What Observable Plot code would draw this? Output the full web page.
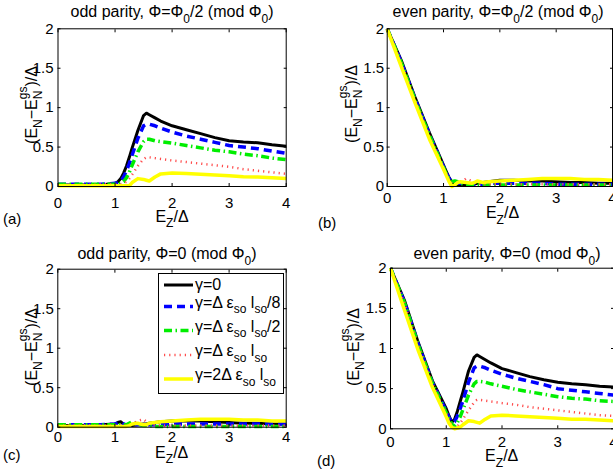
<!DOCTYPE html>
<html><head><meta charset="utf-8">
<script src="https://cdn.jsdelivr.net/npm/d3@7"></script>
<script src="https://cdn.jsdelivr.net/npm/@observablehq/plot@0.6"></script>
<style>
html,body{margin:0;padding:0;background:#fff;overflow:hidden;}
#root{position:relative;width:613px;height:476px;overflow:hidden;background:#fff;}
.panel{position:absolute;overflow:visible;}
.panel svg{max-width:none !important;display:block;}
</style></head><body><div id="root"></div>
<script>
const FONT = '"Liberation Sans", Arial, Helvetica, sans-serif';

// shared x grid (E_Z/Δ)
const xGrid = [0, 0.25, 0.5, 0.75, 1.0, 1.05, 1.1, 1.15, 1.2, 1.25, 1.3, 1.4, 1.5, 1.55, 1.6, 1.7, 1.8, 2.0, 2.25, 2.5, 2.75, 3.0, 3.25, 3.5, 3.75, 4.0];
const xTicks = [0, 1, 2, 3, 4];
const xTickLabels = ["0", "1", "2", "3", "4"];
const yTicks = [0, 0.5, 1, 1.5, 2];
const yTickLabels = ["0", "0.5", "1", "1.5", "2"];

const seriesNames = ["γ=0", "γ=Δ ε_{so} l_{so}/8", "γ=Δ ε_{so} l_{so}/2", "γ=Δ ε_{so} l_{so}", "γ=2Δ ε_{so} l_{so}"];
const seriesColors = ["#000000", "#0000ff", "#00ee00", "#ff4d4d", "#ffff00"];
const seriesWidths = [3, 3.5, 3.5, 2.5, 3.5];
const seriesDashes = [null, "8,5", "8,3.5,1.5,3.5", "1.2,4", null];

const titles = ["odd parity, Φ=Φ_0/2 (mod Φ_0)", "even parity, Φ=Φ_0/2 (mod Φ_0)", "odd parity, Φ=0 (mod Φ_0)", "even parity, Φ=0 (mod Φ_0)"];
const panelTags = ["(a)", "(b)", "(c)", "(d)"];
const xLabel = "E_Z/Δ";
const yLabel = "(E_N−E_N^{gs})/Δ";

// (a) odd parity, Φ=Φ0/2
const aBlack  = [0.02,0.02,0.02,0.02,0.04,0.06,0.10,0.17,0.26,0.37,0.49,0.71,0.90,0.93,0.91,0.87,0.83,0.77,0.72,0.67,0.62,0.58,0.565,0.555,0.53,0.51];
const aBlue   = [0.03,0.03,0.03,0.03,0.04,0.05,0.07,0.12,0.20,0.29,0.40,0.61,0.77,0.79,0.79,0.77,0.74,0.69,0.64,0.60,0.56,0.52,0.50,0.48,0.45,0.42];
const aGreen  = [0.03,0.03,0.03,0.03,0.03,0.03,0.04,0.06,0.11,0.18,0.27,0.44,0.57,0.60,0.60,0.58,0.57,0.55,0.52,0.49,0.46,0.44,0.41,0.39,0.36,0.34];
const aRed    = [0.02,0.02,0.02,0.03,0.03,0.03,0.03,0.04,0.06,0.10,0.15,0.26,0.35,0.37,0.37,0.36,0.35,0.33,0.31,0.29,0.27,0.25,0.22,0.20,0.18,0.16];
const aYellow = [0.01,0.01,0.01,0.01,0.01,0.01,0.01,0.01,0.01,0.01,0.05,0.10,0.09,0.08,0.07,0.12,0.16,0.17,0.165,0.155,0.145,0.135,0.125,0.12,0.11,0.10];

// (b) even parity, Φ=Φ0/2
const bBlack  = [2,1.60,1.12,0.68,0.27,0.19,0.11,0.05,0.03,0.02,0.02,0.02,0.03,0.03,0.04,0.05,0.06,0.08,0.08,0.07,0.07,0.06,0.05,0.05,0.04,0.04];
const bBlue   = [2,1.58,1.10,0.66,0.25,0.17,0.10,0.06,0.05,0.04,0.04,0.03,0.03,0.03,0.03,0.03,0.04,0.04,0.04,0.04,0.04,0.03,0.03,0.03,0.03,0.03];
const bGreen  = [2,1.57,1.09,0.65,0.24,0.16,0.09,0.06,0.07,0.06,0.04,0.03,0.02,0.02,0.02,0.02,0.02,0.02,0.02,0.02,0.02,0.02,0.02,0.02,0.02,0.02];
const bRed    = [2,1.56,1.08,0.64,0.23,0.15,0.08,0.04,0.03,0.04,0.05,0.10,0.07,0.05,0.04,0.03,0.03,0.03,0.03,0.03,0.03,0.03,0.03,0.03,0.03,0.03];
const bYellow = [2,1.52,1.05,0.60,0.22,0.14,0.06,0.00,0.02,0.05,0.06,0.05,0.04,0.05,0.07,0.05,0.06,0.07,0.08,0.09,0.10,0.10,0.10,0.09,0.09,0.08];

// (c) odd parity, Φ=0
const cBlack  = [0.02,0.02,0.02,0.03,0.04,0.06,0.07,0.04,0.02,0.02,0.02,0.03,0.04,0.04,0.05,0.06,0.07,0.08,0.08,0.08,0.07,0.06,0.05,0.05,0.04,0.04];
const cBlue   = [0.03,0.03,0.03,0.03,0.04,0.05,0.06,0.04,0.03,0.03,0.03,0.03,0.03,0.03,0.03,0.03,0.03,0.04,0.04,0.04,0.04,0.04,0.04,0.04,0.04,0.04];
const cGreen  = [0.03,0.03,0.03,0.03,0.03,0.03,0.03,0.03,0.03,0.05,0.07,0.04,0.02,0.02,0.02,0.01,0.01,0.01,0.01,0.01,0.01,0.01,0.01,0.01,0.01,0.01];
const cRed    = [0.02,0.02,0.02,0.02,0.02,0.02,0.02,0.02,0.02,0.03,0.04,0.08,0.10,0.07,0.04,0.03,0.02,0.02,0.02,0.02,0.02,0.02,0.02,0.02,0.02,0.02];
const cYellow = [0.01,0.01,0.01,0.01,0.01,0.01,0.01,0.01,0.01,0.02,0.04,0.05,0.03,0.03,0.05,0.06,0.07,0.08,0.09,0.10,0.10,0.10,0.09,0.09,0.08,0.08];

// (d) even parity, Φ=0
const dBlack  = [2,1.60,1.07,0.60,0.25,0.16,0.08,0.12,0.22,0.34,0.46,0.72,0.89,0.92,0.90,0.86,0.82,0.75,0.70,0.65,0.61,0.58,0.56,0.55,0.53,0.52];
const dBlue   = [2,1.58,1.05,0.58,0.22,0.14,0.08,0.09,0.16,0.25,0.35,0.58,0.76,0.78,0.78,0.76,0.73,0.68,0.63,0.59,0.55,0.50,0.48,0.46,0.44,0.42];
const dGreen  = [2,1.57,1.04,0.57,0.20,0.12,0.06,0.03,0.08,0.15,0.24,0.42,0.56,0.59,0.59,0.58,0.56,0.53,0.49,0.46,0.43,0.40,0.38,0.37,0.35,0.34];
const dRed    = [2,1.56,1.03,0.56,0.19,0.10,0.04,0.01,0.03,0.07,0.12,0.23,0.33,0.36,0.36,0.35,0.34,0.32,0.30,0.27,0.25,0.23,0.21,0.19,0.17,0.16];
const dYellow = [2,1.48,0.97,0.52,0.15,0.07,0.02,0.00,0.01,0.02,0.05,0.10,0.09,0.08,0.07,0.12,0.16,0.17,0.16,0.15,0.14,0.13,0.12,0.12,0.11,0.10];

const panels = [
  {left: 0,   top: 0,   width: 300, height: 236, mL: 57.5, mT: 28.3, mR: 14.3, mB: 50,   xPad: 10.5, yPad: 4.5, series: [aBlack, aBlue, aGreen, aRed, aYellow],
   title: [172, 17], xl: [172, 221.5], yl: [37, 105], tag: [3, 224]},
  {left: 300, top: 0,   width: 330, height: 236, mL: 86.7, mT: 28.3, mR: 18,   mB: 50,   xPad: 6,    yPad: 3,   series: [bBlack, bBlue, bGreen, bRed, bYellow],
   title: [498, 17], xl: [502.5, 218], yl: [357, 104], tag: [318, 228]},
  {left: 0,   top: 236, width: 300, height: 240, mL: 57.3, mT: 32.7, mR: 14.3, mB: 49.3, xPad: 4.3,  yPad: 4,   series: [cBlack, cBlue, cGreen, cRed, cYellow],
   title: [167, 259], xl: [171.7, 457.7], yl: [37, 347], tag: [3, 460]},
  {left: 300, top: 236, width: 330, height: 240, mL: 90,   mT: 31.7, mR: 17,   mB: 47.7, xPad: 8,    yPad: 4,   series: [dBlack, dBlue, dGreen, dRed, dYellow],
   title: [507, 259], xl: [501.7, 461], yl: [359, 347], tag: [317, 466]}
];

const root = document.getElementById("root");

function buildPanel(p) {
  const lineMarks = p.series.map((vals, si) =>
    Plot.line(xGrid.map((x, i) => ({x, y: vals[i]})), {
      x: "x", y: "y",
      stroke: seriesColors[si], strokeWidth: seriesWidths[si],
      strokeDasharray: seriesDashes[si] || undefined,
      strokeLinecap: "butt", strokeLinejoin: "round"
    }));
  const fmtX = d => xTickLabels[xTicks.indexOf(d)];
  const fmtY = d => yTickLabels[yTicks.indexOf(d)];
  return Plot.plot({
    width: p.width, height: p.height,
    marginLeft: p.mL, marginRight: p.mR, marginTop: p.mT, marginBottom: p.mB,
    x: {domain: [0, 4]},
    y: {domain: [0, 2]},
    style: {fontFamily: FONT, fontSize: "15px", color: "black", background: "transparent", overflow: "visible", maxWidth: "none"},
    marks: [
      ...lineMarks,
      Plot.frame({stroke: "black", strokeWidth: 1}),
      Plot.axisX(xTicks, {anchor: "bottom", tickSize: 0, tickPadding: p.xPad, tickFormat: fmtX, label: null}),
      Plot.axisY(yTicks, {anchor: "left", tickSize: 0, tickPadding: p.yPad, tickFormat: fmtY, label: null}),
      Plot.axisX(xTicks, {anchor: "bottom", tickSize: 3, dy: -3, tickFormat: () => "", label: null}),
      Plot.axisX(xTicks, {anchor: "top", tickSize: 3, dy: 3, tickFormat: () => "", label: null}),
      Plot.axisY(yTicks, {anchor: "left", tickSize: 3, dx: 3, tickFormat: () => "", label: null}),
      Plot.axisY(yTicks, {anchor: "right", tickSize: 3, dx: -3, tickFormat: () => "", label: null})
    ]
  });
}

panels.forEach(p => {
  const div = document.createElement("div");
  div.className = "panel";
  div.style.left = p.left + "px";
  div.style.top = p.top + "px";
  div.style.width = p.width + "px";
  div.style.height = p.height + "px";
  const svg = buildPanel(p);
  svg.style.maxWidth = "none";
  svg.setAttribute("width", p.width);
  svg.setAttribute("height", p.height);
  svg.style.width = p.width + "px";
  svg.style.height = p.height + "px";
  div.appendChild(svg);
  root.appendChild(div);
});

// overlay for rich text (sub/superscripts) and legend
const overlay = d3.create("svg")
  .attr("width", 613).attr("height", 476)
  .style("position", "absolute").style("left", "0px").style("top", "0px")
  .style("pointer-events", "none")
  .style("font-family", FONT);
root.appendChild(overlay.node());

function parseTex(s) {
  const parts = []; let i = 0, buf = "";
  const flush = () => { if (buf) { parts.push({t: buf, k: ""}); buf = ""; } };
  while (i < s.length) {
    const c = s[i];
    if (c === "_" || c === "^") {
      flush();
      let arg;
      if (s[i + 1] === "{") { const j = s.indexOf("}", i + 2); arg = s.slice(i + 2, j); i = j + 1; }
      else { arg = s[i + 1]; i += 2; }
      parts.push({t: arg, k: c === "_" ? "sub" : "sup"});
    } else { buf += c; i++; }
  }
  flush();
  return parts;
}

function rich(str, {x, y, size = 15, anchor = "middle", rotate = 0, supShift = 0.55, subShift = 0.36}) {
  const t = overlay.append("text")
    .attr("font-size", size).attr("text-anchor", anchor).attr("fill", "black")
    .attr("transform", `translate(${x},${y})` + (rotate ? ` rotate(${rotate})` : ""));
  const parts = parseTex(str);
  let shift = 0, prevKind = "", prevW = 0, pendingDx = 0;
  parts.forEach(part => {
    const script = part.k !== "";
    const target = part.k === "sub" ? size * subShift : part.k === "sup" ? -size * supShift : 0;
    const ts = t.append("tspan")
      .attr("font-size", script ? size * 0.75 : size)
      .attr("dy", target - shift)
      .text(part.t);
    shift = target;
    let dx = pendingDx;
    pendingDx = 0;
    const stacked = script && (prevKind === "sub" || prevKind === "sup") && prevKind !== part.k;
    if (stacked) dx -= prevW;
    if (dx) ts.attr("dx", dx);
    const w = ts.node().getComputedTextLength();
    if (stacked) { pendingDx = Math.max(0, prevW - w); prevKind = ""; }
    else prevKind = part.k;
    prevW = w;
  });
  return t;
}

panels.forEach((p, k) => {
  rich(titles[k], {x: p.title[0], y: p.title[1], size: 16});
  rich(xLabel, {x: p.xl[0], y: p.xl[1], size: 16});
  rich(yLabel, {x: p.yl[0], y: p.yl[1], size: 16, rotate: -90, supShift: 0.6, subShift: 0.3});
  overlay.append("text").attr("x", p.tag[0]).attr("y", p.tag[1]).attr("font-size", 15).attr("fill", "black").text(panelTags[k]);
});

// legend inside panel (c)
const leg = overlay.append("g");
leg.append("rect").attr("x", 158.5).attr("y", 273.5).attr("width", 125).attr("height", 120)
  .attr("fill", "white").attr("stroke", "black").attr("stroke-width", 1);
const legRows = [285, 306.5, 330.5, 355, 379];
seriesNames.forEach((name, si) => {
  leg.append("line").attr("x1", 164).attr("x2", 193).attr("y1", legRows[si]).attr("y2", legRows[si])
    .attr("stroke", seriesColors[si]).attr("stroke-width", seriesWidths[si])
    .attr("stroke-dasharray", seriesDashes[si]).attr("stroke-linecap", "butt");
  rich(name, {x: 195, y: legRows[si] + (si === 0 ? 5 : 1), size: 16, anchor: "start"});
});
</script>
</body></html>
